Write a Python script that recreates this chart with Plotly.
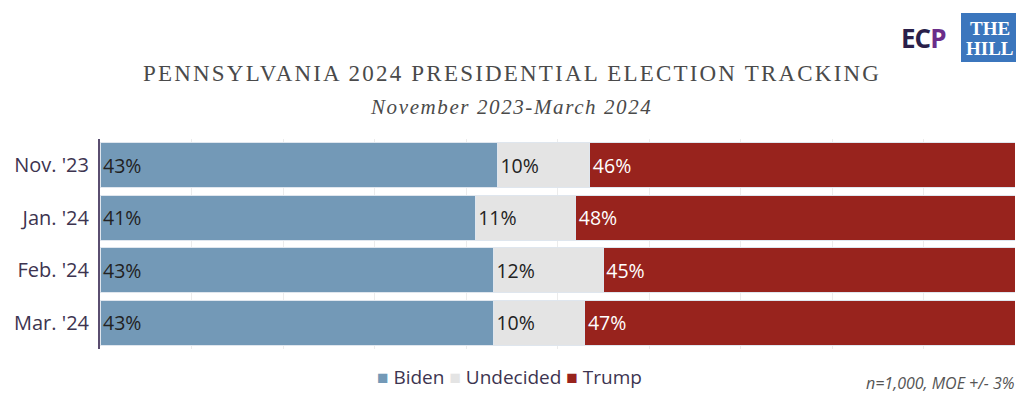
import plotly.graph_objects as go

months = ["Nov. '23", "Jan. '24", "Feb. '24", "Mar. '24"]
biden = [43, 41, 43, 43]
undecided = [10, 11, 12, 10]
trump = [46, 48, 45, 47]

series = [
    ("Biden", biden, "#7399b7", "#222222"),
    ("Undecided", undecided, "#e4e4e4", "#222222"),
    ("Trump", trump, "#98231d", "#ffffff"),
]

sans = "'Open Sans', 'Noto Sans', sans-serif"
serif = "'Liberation Serif', 'DejaVu Serif', serif"

# figure is drawn 8px in from the page edge (body margin), so size it to fit
W, H = 1016, 397
L, R, T, B = 92, 9, 131, 56
PW, PH = W - L - R, H - T - B


def px(x):
    # page pixel x -> paper x
    return (x - 8 - L) / PW


def py(y):
    # page pixel y -> paper y
    return (H - B - (y - 8)) / PH


fig = go.Figure()
for name, vals, color, txt_color in series:
    fig.add_trace(
        go.Bar(
            y=months,
            x=vals,
            name=name,
            orientation="h",
            marker=dict(color=color, line=dict(color="#dfe6ee", width=1)),
            text=[f"{v}%" for v in vals],
            textposition="inside",
            insidetextanchor="start",
            textangle=0,
            textfont=dict(family=sans, size=19.5, color=txt_color),
            hoverinfo="skip",
            showlegend=False,
        )
    )

fig.update_layout(
    barmode="stack",
    barnorm="percent",
    bargap=0.15,
    width=W,
    height=H,
    margin=dict(l=L, r=R, t=T, b=B),
    paper_bgcolor="white",
    plot_bgcolor="white",
    uniformtext=dict(minsize=19, mode="show"),
    xaxis=dict(
        range=[0, 100],
        showticklabels=False,
        showgrid=True,
        gridcolor="#ececec",
        gridwidth=1,
        dtick=10,
        zeroline=False,
        fixedrange=True,
    ),
    yaxis=dict(
        autorange="reversed",
        automargin=False,
        showline=True,
        linecolor="#5a4d70",
        linewidth=2,
        ticks="",
        ticklabelstandoff=5,
        tickfont=dict(family=sans, size=20, color="#3d3450"),
    ),
)

# legend, written as one line of text so the spacing stays tight
legend_txt = " ".join(
    f"<span style='color:{c}'>■</span> {n}" for n, _, c, _ in series
)
fig.add_annotation(
    text=legend_txt,
    xref="paper", yref="paper", x=px(509), y=py(377),
    xanchor="center", yanchor="middle", showarrow=False,
    font=dict(family=sans, size=19, color="#3d3450"),
)

# title and subtitle
fig.add_annotation(
    text="<span style='letter-spacing:2.2px'>PENNSYLVANIA 2024 PRESIDENTIAL ELECTION TRACKING</span>",
    xref="paper", yref="paper", x=px(512), y=py(73),
    xanchor="center", yanchor="middle",
    showarrow=False,
    font=dict(family=serif, size=23, color="#4a4a4a"),
)
fig.add_annotation(
    text="<i><span style='letter-spacing:1.6px'>November 2023-March 2024</span></i>",
    xref="paper", yref="paper", x=px(511), y=py(107),
    xanchor="center", yanchor="middle",
    showarrow=False,
    font=dict(family=serif, size=21, color="#4a4a4a"),
)

# footnote
fig.add_annotation(
    text="<i>n=1,000, MOE +/- 3%</i>",
    xref="paper", yref="paper", x=px(1017), y=py(383),
    xanchor="right", yanchor="middle",
    showarrow=False,
    font=dict(family=sans, size=16, color="#555555"),
)

# logos (drawn as text + shapes)
fig.add_annotation(
    text="<b><span style='letter-spacing:-1px'>EC<span style='color:#6a2d8a'>P</span></span></b>",
    xref="paper", yref="paper", x=px(923), y=py(38),
    xanchor="center", yanchor="middle", showarrow=False,
    font=dict(family=sans, size=26, color="#2a1f4a"),
)
fig.add_shape(
    type="rect", xref="paper", yref="paper",
    x0=px(961), x1=px(1018), y0=py(62), y1=py(13),
    line=dict(width=0), fillcolor="#3b76bd",
)
fig.add_annotation(
    text="<b>THE</b>",
    xref="paper", yref="paper", x=px(989.5), y=py(28),
    xanchor="center", yanchor="middle", showarrow=False,
    font=dict(family=serif, size=19, color="#ffffff"),
)
fig.add_annotation(
    text="<b>HILL</b>",
    xref="paper", yref="paper", x=px(989.5), y=py(48),
    xanchor="center", yanchor="middle", showarrow=False,
    font=dict(family=serif, size=19, color="#ffffff"),
)

fig.write_html("out.html")
